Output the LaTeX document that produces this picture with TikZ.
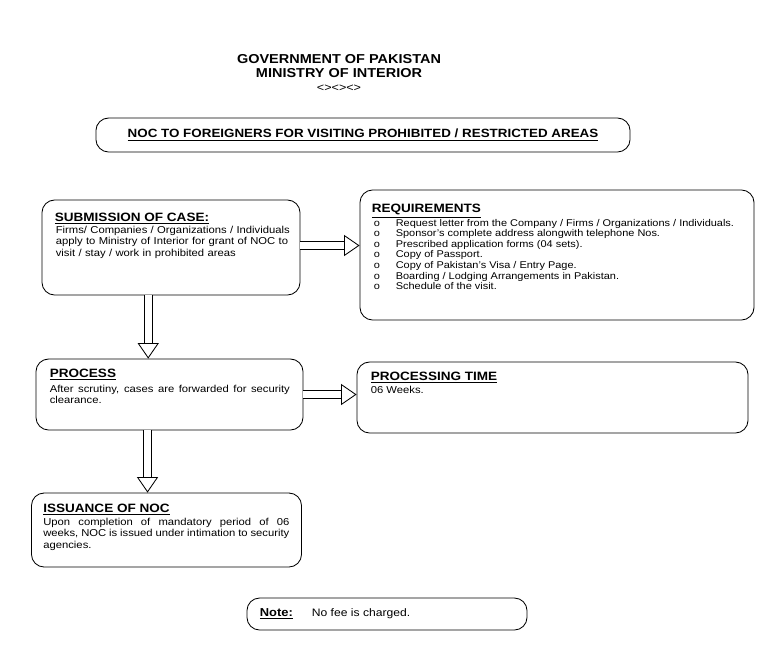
\documentclass[tikz,border=0pt]{standalone}
\usepackage{fontspec}
\setmainfont{Liberation Sans}[FakeStretch=1.12]
\usetikzlibrary{arrows.meta, positioning, calc}

\newcommand{\headtext}[1]{\textbf{\underline{#1}}}

\begin{document}
\begin{tikzpicture}[x=0.025cm, y=-0.025cm,
  card/.style={draw, line width=0.6pt, rounded corners=9pt, inner sep=0pt},
  head/.style={anchor=base west, inner sep=0pt, font=\fontsize{8.6}{10}\selectfont},
  body/.style={anchor=base west, inner sep=0pt, font=\fontsize{7.15}{8.2}\selectfont},
  hollow/.style={double, double distance=5.2pt, line width=0.6pt,
                 -{Triangle[open, length=11pt, width=15pt]}}
]
  \useasboundingbox (0,0) rectangle (779,647);

  % heading of the page
  \node[font=\fontsize{9.2}{10}\selectfont\bfseries, anchor=base] (gov) at (339,63) {GOVERNMENT OF PAKISTAN};
  \node[font=\fontsize{9.2}{10}\selectfont\bfseries, anchor=base] (moi) at (339,77) {MINISTRY OF INTERIOR};
  \node[font=\fontsize{8}{9}\selectfont, anchor=base] (orn) at (339,91) {<><><>};

  \node[card, minimum width=13.35cm, minimum height=0.85cm, font=\fontsize{8.5}{10}\selectfont]
    (ttl) at (363,135) {\headtext{NOC TO FOREIGNERS FOR VISITING PROHIBITED / RESTRICTED AREAS}};

  % boxes
  \node[card, minimum width=6.45cm, minimum height=2.375cm] (sub) at (171,247.5) {};
  \node[card, minimum width=9.85cm, minimum height=3.25cm] (req) at (557,255) {};
  \node[card, minimum width=6.675cm, minimum height=1.775cm] (pro) at (169.5,394.5) {};
  \node[card, minimum width=9.775cm, minimum height=1.775cm] (time) at (552.5,397.5) {};
  \node[card, minimum width=6.75cm, minimum height=1.85cm] (iss) at (166.5,530) {};
  \node[card, minimum width=7cm, minimum height=0.8cm] (note) at (387,614) {};

  % texts
  \node[head] (sub-h) at ($(sub.north west)+(13,22)$) {\headtext{SUBMISSION OF CASE:}};
  \node[body, text width=6.05cm, align=left] (sub-b) at ($(sub.north west)+(14,33.5)$)
    {Firms/ Companies / Organizations / Individuals\\apply to Ministry of Interior for grant of NOC to\\visit / stay / work in prohibited areas};

  \node[head] (req-h) at ($(req.north west)+(12,23)$) {\headtext{REQUIREMENTS}};
  \foreach \txt [count=\i] in {Request letter from the Company / Firms / Organizations / Individuals.,
      Sponsor's complete address alongwith telephone Nos.,
      Prescribed application forms (04 sets).,
      Copy of Passport.,
      Copy of Pakistan's Visa / Entry Page.,
      Boarding / Lodging Arrangements in Pakistan.,
      Schedule of the visit.}{
    \node[body, font=\fontsize{6.95}{8}\selectfont] (req-o\i) at ($(req.north west)+(14,26+10.6*\i)$) {o};
    \node[body, font=\fontsize{6.95}{8}\selectfont] (req-\i) at ($(req.north west)+(36,26+10.6*\i)$) {\txt};
  }

  \node[head] (pro-h) at ($(pro.north west)+(14,19)$) {\headtext{PROCESS}};
  \node[body, text width=6cm, align=justify] (pro-b) at ($(pro.north west)+(14,33.5)$)
    {After scrutiny, cases are forwarded for security\linebreak clearance.};

  \node[head] (time-h) at ($(time.north west)+(14,19)$) {\headtext{PROCESSING TIME}};
  \node[body] (time-b) at ($(time.north west)+(14,32)$) {06 Weeks.};

  \node[head] (iss-h) at ($(iss.north west)+(12,20)$) {\headtext{ISSUANCE OF NOC}};
  \node[body, text width=6.15cm, align=justify] (iss-b) at ($(iss.north west)+(12,32.5)$)
    {Upon completion of mandatory period of 06\linebreak weeks, NOC is issued under intimation to security\linebreak agencies.};

  \node[head, font=\fontsize{8.2}{10}\selectfont] (note-h) at ($(note.north west)+(13,19)$) {\headtext{Note:}};
  \node[body, font=\fontsize{7.7}{9}\selectfont] (note-b) at ($(note.north west)+(65,19)$) {No fee is charged.};

  % connectors
  \draw[hollow] ($(sub.east)+(0,-2)$) -- ($(sub.east -| req.west)+(0,-2)$);
  \draw[hollow] ($(sub.south west)!0.412!(sub.south east)$) coordinate (d1) -- (d1 |- pro.north);
  \draw[hollow] (pro.east) -- (pro.east -| time.west);
  \draw[hollow] ($(pro.south west)!0.418!(pro.south east)$) coordinate (d2) -- (d2 |- iss.north);
\end{tikzpicture}
\end{document}
